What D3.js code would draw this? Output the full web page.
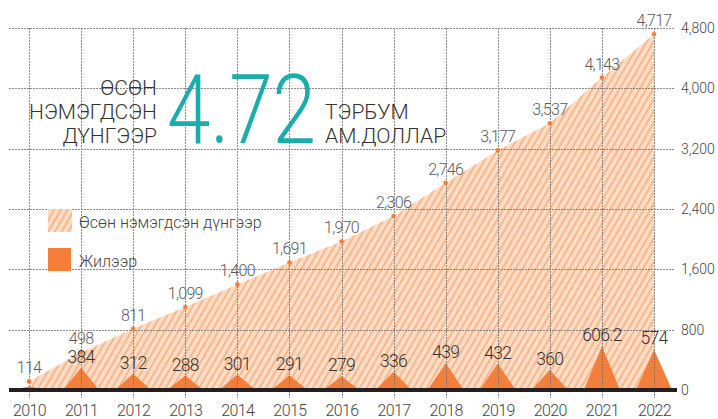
<!DOCTYPE html>
<html>
<head>
<meta charset="utf-8">
<script src="https://cdn.jsdelivr.net/npm/d3@7"></script>
<style>
  body { margin: 0; background: #fff; }
  text { font-family: Roboto, "Noto Sans", sans-serif; }
</style>
</head>
<body>
<div id="chart"></div>
<script>
const years = [2010, 2011, 2012, 2013, 2014, 2015, 2016, 2017, 2018, 2019, 2020, 2021, 2022]
const cumulative = [114, 498, 811, 1099, 1400, 1691, 1970, 2306, 2746, 3177, 3537, 4143, 4717]
const annual = [114, 384, 312, 288, 301, 291, 279, 336, 439, 432, 360, 606.2, 574]
const yTicks = [0, 800, 1600, 2400, 3200, 4000, 4800]
const titleLeft = ["ӨСӨН", "НЭМЭГДСЭН", "ДҮНГЭЭР"]
const titleRight = ["ТЭРБУМ", "АМ.ДОЛЛАР"]
const bigNumber = "4.72"
const legendNames = ["Өсөн нэмэгдсэн дүнгээр", "Жилээр"]

const width = 718, height = 419
const orange = "#f47f3b"

const svg = d3.select("#chart").append("svg")
    .attr("width", width)
    .attr("height", height)

const defs = svg.append("defs")
const hatch = defs.append("pattern")
    .attr("id", "hatch")
    .attr("patternUnits", "userSpaceOnUse")
    .attr("width", 5.8)
    .attr("height", 10)
    .attr("patternTransform", "rotate(30)")
hatch.append("rect").attr("width", 5.8).attr("height", 10).attr("fill", "#fddcc5")
hatch.append("line")
    .attr("x1", 1).attr("x2", 1).attr("y1", 0).attr("y2", 10)
    .attr("stroke", "#f59a5f").attr("stroke-width", 1.1)

const x = d3.scaleLinear().domain([2010, 2022]).range([29, 654])
const y = d3.scaleLinear().domain([0, 4800]).range([390, 28])
// triangles are drawn smaller than the axis scale in the original
const triH = d3.scalePow().exponent(1.5).domain([0, 606.2]).range([0, 44])

const cumData = years.map((yr, i) => ({ year: yr, value: cumulative[i] }))
const annData = years.map((yr, i) => ({ year: yr, value: annual[i], same: annual[i] === cumulative[i] }))

// hatched cumulative area
const area = d3.area()
    .x(d => x(d.year))
    .y0(y(0))
    .y1(d => y(d.value))

svg.append("path")
    .datum(cumData)
    .attr("d", area)
    .attr("fill", "url(#hatch)")

// yearly triangles
svg.append("g").selectAll("path")
    .data(annData)
    .join("path")
    .attr("d", d => {
        const cx = x(d.year), b = y(0), top = b - triH(d.value)
        return `M${cx - 18},${b}L${cx},${top}L${cx + 18},${b}Z`
    })
    .attr("fill", orange)

// gridlines
const grid = svg.append("g")
    .attr("stroke", "#6f6f6f")
    .attr("stroke-width", 1)
    .attr("stroke-dasharray", "2,1")
    .attr("opacity", 0.8)

grid.selectAll(".hgrid")
    .data(yTicks.filter(d => d > 0))
    .join("line")
    .attr("class", "hgrid")
    .attr("x1", 9).attr("x2", 675)
    .attr("y1", d => Math.round(y(d)) + 0.5)
    .attr("y2", d => Math.round(y(d)) + 0.5)

grid.selectAll(".vgrid")
    .data(years)
    .join("line")
    .attr("class", "vgrid")
    .attr("x1", d => Math.round(x(d)) + 0.5)
    .attr("x2", d => Math.round(x(d)) + 0.5)
    .attr("y1", y(4800)).attr("y2", 398)

// base line
svg.append("line")
    .attr("x1", 9).attr("x2", 677)
    .attr("y1", y(0)).attr("y2", y(0))
    .attr("stroke", "#231f20")
    .attr("stroke-width", 4)

// right axis
const yAxis = d3.axisRight(y).tickValues(yTicks).tickFormat(d3.format(",")).tickSize(0).tickPadding(0)
const yAxisG = svg.append("g")
    .attr("transform", "translate(681,0)")
    .call(yAxis)
yAxisG.select(".domain").remove()
yAxisG.selectAll("text")
    .attr("font-family", "Roboto, sans-serif")
    .attr("font-size", 14)
    .attr("font-weight", 300)
    .attr("fill", "#444")

// bottom axis
const xAxis = d3.axisBottom(x).tickValues(years).tickFormat(d3.format("d")).tickSize(0).tickPadding(0)
const xAxisG = svg.append("g")
    .call(xAxis)
xAxisG.select(".domain").remove()
xAxisG.selectAll("text")
    .attr("y", 416)
    .attr("dy", null)
    .attr("font-family", "Roboto, sans-serif")
    .attr("font-size", 16)
    .attr("font-weight", 300)
    .attr("letter-spacing", -0.6)
    .attr("fill", "#444")

// cumulative dots and labels
svg.append("g").selectAll("circle")
    .data(cumData)
    .join("circle")
    .attr("cx", d => x(d.year))
    .attr("cy", d => y(d.value))
    .attr("r", 2.3)
    .attr("fill", orange)

svg.append("g").selectAll("text")
    .data(cumData)
    .join("text")
    .attr("x", d => x(d.year))
    .attr("y", d => y(d.value) - 8)
    .attr("text-anchor", "middle")
    .attr("font-size", 16)
    .attr("font-weight", 300)
    .attr("letter-spacing", -0.7)
    .attr("fill", "#5a5a5a")
    .text(d => d3.format(",")(d.value))

// yearly labels (2010 shares its label with the cumulative one)
svg.append("g").selectAll("text")
    .data(annData.filter(d => !d.same))
    .join("text")
    .attr("x", d => x(d.year))
    .attr("y", d => y(0) - triH(d.value) - 5)
    .attr("text-anchor", "middle")
    .attr("font-size", 17.5)
    .attr("font-weight", 300)
    .attr("letter-spacing", -0.7)
    .attr("fill", "#333")
    .text(d => String(d.value))

// title
svg.append("g").selectAll("text")
    .data(titleLeft)
    .join("text")
    .attr("x", 157)
    .attr("y", (d, i) => 95 + i * 24)
    .attr("text-anchor", "end")
    .attr("font-size", 21)
    .attr("font-weight", 300)
    .attr("fill", "#333")
    .text(d => d)

svg.append("g").selectAll("text")
    .data(titleRight)
    .join("text")
    .attr("x", 325)
    .attr("y", (d, i) => 119 + i * 24)
    .attr("font-size", 21)
    .attr("font-weight", 300)
    .attr("fill", "#333")
    .text(d => d)

// big figure, squeezed horizontally like the condensed original
const big = svg.append("g").attr("transform", "translate(167,143)")
const bigText = big.append("text")
    .attr("font-size", 97)
    .attr("font-weight", 300)
    .attr("fill", "#19adab")
    .text(bigNumber)
const natural = bigText.node().getComputedTextLength()
big.attr("transform", `translate(167,143) scale(${149 / natural},1)`)

// legend
const legend = svg.append("g")
legend.append("rect")
    .attr("x", 48).attr("y", 209).attr("width", 24).attr("height", 23)
    .attr("fill", "url(#hatch)")
legend.append("rect")
    .attr("x", 48).attr("y", 248).attr("width", 23).attr("height", 23)
    .attr("fill", orange)
legend.selectAll("text")
    .data(legendNames)
    .join("text")
    .attr("x", 79)
    .attr("y", (d, i) => 228 + i * 39)
    .attr("font-size", 16)
    .attr("font-weight", 300)
    .attr("fill", "#444")
    .text(d => d)
</script>
</body>
</html>
